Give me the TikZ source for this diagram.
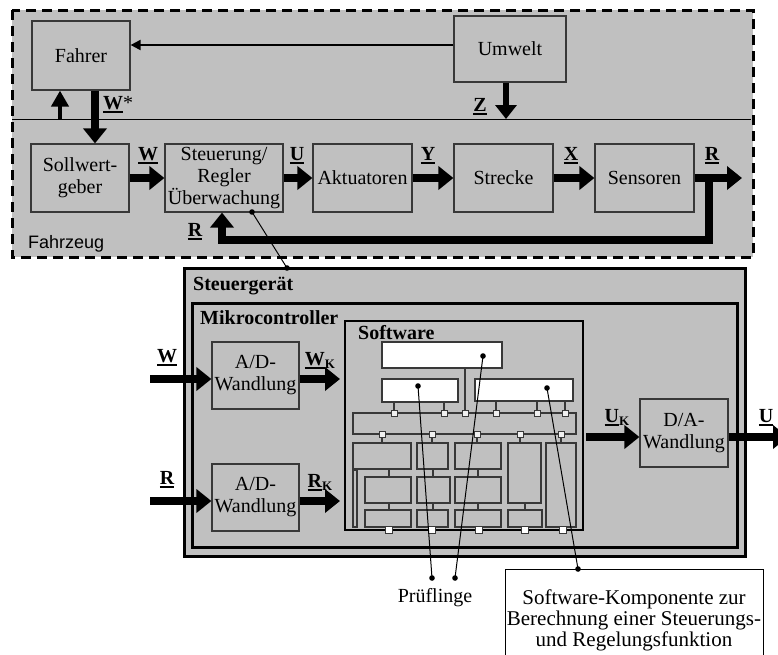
\documentclass[tikz,border=0pt]{standalone}
\usepackage{fontspec}
\setmainfont{Liberation Serif}
\newfontfamily\labelsans{Liberation Sans}
\usetikzlibrary{arrows.meta}

\definecolor{panel}{HTML}{C0C0C0}
\definecolor{edge}{HTML}{383838}

% small square port on a software bus line
\newcommand\swport[2]{\draw[port] (#1-3,#2-3) rectangle (#1+3,#2+3);}
% underlined signal name
\newcommand\ulsig[1]{\leavevmode\vtop{\hbox{#1}\kern1.8pt\hrule height 1.7pt}}

\begin{document}
\begin{tikzpicture}[x=1pt,y=-1pt,line join=miter,
  every node/.style={font=\fontsize{20}{22}\selectfont},
  blk/.style={draw=edge,line width=1.2pt,fill=panel,inner sep=0pt,align=center},
  wbox/.style={draw=edge,line width=1.4pt,fill=white,inner sep=0pt},
  sig/.style={inner sep=0pt,anchor=base,font=\fontsize{20}{22}\selectfont\bfseries},
  flow/.style={line width=8pt,-{Triangle[length=15pt,width=23pt]}},
  thinflow/.style={line width=2pt,-{Triangle[length=10pt,width=10pt]}},
  pointer/.style={line width=1pt},
  mod/.style={draw=edge,line width=1.3pt,fill=panel},
  port/.style={draw=edge,line width=1pt,fill=gray!12},
  stub/.style={draw=edge,line width=1.3pt},
]
\useasboundingbox (0,0) rectangle (778,654);
\clip (0,0) rectangle (778,654);

% ---------------- vehicle level ----------------
\draw[line width=3pt,dash pattern=on 10pt off 6pt,fill=panel] (12,10) rectangle (753,257);
\coordinate (sepL) at (12,119);
\coordinate (sepR) at (751,119);
\draw[line width=1pt] (sepL) -- (sepR);
\node[inner sep=0pt,anchor=base west,font=\labelsans\fontsize{18}{20}\selectfont] (fzlabel) at (28,248) {Fahrzeug};

\node[blk,minimum width=98pt,minimum height=69pt] (fahrer) at (81,55.5) {Fahrer};
\node[blk,minimum width=112pt,minimum height=66pt] (umwelt) at (510,49) {Umwelt};

\node[blk,minimum width=98pt,minimum height=68pt] (soll) at (80,178) {Sollwert-\\geber};
\node[blk,minimum width=118pt,minimum height=68pt] (steuer) at (224,178) {Steuerung/\\Regler\\Überwachung};
\node[blk,minimum width=99pt,minimum height=68pt] (akt) at (362.5,178) {Aktuatoren};
\node[blk,minimum width=99pt,minimum height=68pt] (strecke) at (503.5,178) {Strecke};
\node[blk,minimum width=99pt,minimum height=68pt] (sens) at (644.5,178) {Sensoren};

% environment to driver
\draw[thinflow] (umwelt.west |- 0,45) -- (fahrer.east |- 0,45);
% disturbance
\coordinate (zfoot) at (506,119);
\draw[line width=6pt,-{Triangle[length=14pt,width=21pt]}] (umwelt.south -| zfoot) -- (zfoot);
\node[sig] (lz) at (480,111) {\ulsig{Z}};
% feedback to driver
\coordinate (upfoot) at (60,119);
\draw[line width=4pt,-{Triangle[length=16pt,width=17pt]}] (upfoot) -- (upfoot |- fahrer.south);
% driver set point
\coordinate (wsx) at (95,0);
\draw[flow] (fahrer.south -| wsx) -- (soll.north -| wsx);
\node[sig] (lws) at (118,109) {\ulsig{W}\textnormal{*}};

% forward chain
\draw[flow] (soll) -- (steuer);
\draw[flow] (steuer) -- (akt);
\draw[flow] (akt) -- (strecke);
\draw[flow] (strecke) -- (sens);
\coordinate (rtip) at (742,178);
\draw[flow] (sens.east) -- (rtip);
\node[sig] (lw) at (148,160) {\ulsig{W}};
\node[sig] (lu) at (297,160) {\ulsig{U}};
\node[sig] (ly) at (428,160) {\ulsig{Y}};
\node[sig] (lx) at (571,160) {\ulsig{X}};
\node[sig] (lr) at (712,160) {\ulsig{R}};

% feedback loop
\coordinate (rsplit) at (709,178);
\coordinate (rcorner) at (709,240);
\coordinate (rleft) at (222,240);
\draw[flow] (rsplit) -- (rcorner) -- (rleft) -- (steuer.south -| rleft);
\node[sig] (lrfb) at (195,236) {\ulsig{R}};

% ---------------- control unit ----------------
\node[draw,line width=3pt,fill=panel,minimum width=561pt,minimum height=288pt,inner sep=0pt] (sg) at (464.5,412) {};
\node[draw,line width=3pt,fill=panel,minimum width=545pt,minimum height=244pt,inner sep=0pt] (mc) at (464.5,425) {};
\node[inner sep=0pt,anchor=base west,font=\fontsize{20}{22}\selectfont\bfseries] (sglabel) at (193,290) {Steuergerät};
\node[inner sep=0pt,anchor=base west,font=\fontsize{20}{22}\selectfont\bfseries] (mclabel) at (200,324) {Mikrocontroller};

\node[draw,line width=1.2pt,fill=panel,minimum width=238pt,minimum height=209pt,inner sep=0pt] (sw) at (464,425.5) {};
\node[inner sep=0pt,anchor=base west,font=\fontsize{20}{22}\selectfont\bfseries] (swlabel) at (358,339) {Software};

\node[blk,minimum width=87pt,minimum height=67pt] (ad1) at (255.5,375.5) {A/D-\\Wandlung};
\node[blk,minimum width=87pt,minimum height=67pt] (ad2) at (255.5,497.5) {A/D-\\Wandlung};
\node[blk,minimum width=88pt,minimum height=68pt] (da) at (684,433) {D/A-\\Wandlung};

\coordinate (winfoot) at (150,379);
\coordinate (wktip) at (340,379);
\coordinate (rinfoot) at (150,501);
\coordinate (rktip) at (340,501);
\coordinate (ukfoot) at (586,437);
\coordinate (uout) at (788,437);
\draw[flow] (winfoot) -- (ad1.west |- winfoot);
\draw[flow] (ad1.east |- wktip) -- (wktip);
\draw[flow] (rinfoot) -- (ad2.west |- rinfoot);
\draw[flow] (ad2.east |- rktip) -- (rktip);
\draw[flow] (ukfoot) -- (da.west |- ukfoot);
\draw[flow] (da.east |- uout) -- (uout);
\node[sig] (lwin) at (167,362) {\ulsig{W}};
\node[sig] (lwk) at (320,365) {\ulsig{W}\raisebox{-3pt}{\fontsize{13}{13}\selectfont K}};
\node[sig] (lrin) at (167,484) {\ulsig{R}};
\node[sig] (lrk) at (320,487) {\ulsig{R}\raisebox{-3pt}{\fontsize{13}{13}\selectfont K}};
\node[sig] (luk) at (617,422) {\ulsig{U}\raisebox{-3pt}{\fontsize{13}{13}\selectfont K}};
\node[sig] (luout) at (766,422) {\ulsig{U}};

% ---------------- software structure ----------------
\node[wbox,minimum width=120pt,minimum height=26pt] (swtop) at (442,355) {};
\node[wbox,minimum width=76pt,minimum height=23pt] (swleft) at (420,390.5) {};
\node[wbox,minimum width=98pt,minimum height=22pt] (swright) at (524,390) {};

% bus
\draw[mod] (353,413) rectangle (576,434);
\draw[stub] (394,402) -- (394,413);
\draw[stub] (444,402) -- (444,413);
\draw[stub] (465,368) -- (465,413);
\draw[stub] (496,401) -- (496,413);
\draw[stub] (537,401) -- (537,413);
\draw[stub] (565,401) -- (565,413);
\foreach \px in {382,432,477,520,561} {\draw[stub] (\px,434) -- (\px,443);}

% module columns
\draw[mod] (353,443) rectangle (411,469);
\draw[mod] (353,470) rectangle (357,527);
\draw[mod] (365,477) rectangle (411,503);
\draw[mod] (365,510) rectangle (411,527);
\draw[stub] (389,469) -- (389,477) (389,503) -- (389,510);

\draw[mod] (417,443) rectangle (448,469);
\draw[mod] (417,477) rectangle (450,503);
\draw[mod] (417,510) rectangle (448,527);
\draw[stub] (433,469) -- (433,477) (433,503) -- (433,510);

\draw[mod] (455,443) rectangle (501,469);
\draw[mod] (455,477) rectangle (501,503);
\draw[mod] (455,510) rectangle (501,527);
\draw[stub] (478,469) -- (478,477) (478,503) -- (478,510);

\draw[mod] (508,443) rectangle (541,503);
\draw[mod] (508,510) rectangle (542,527);
\draw[stub] (525,503) -- (525,510);

\draw[mod] (546,443) rectangle (576,527);

% ports
\foreach \px in {394,444,465,496,537,565} {\swport{\px}{413}}
\foreach \px in {382,432,477,520,561} {\swport{\px}{434}}
\foreach \px in {389,432,479,525,563} {\draw[draw=edge,line width=1pt,fill=white] (\px-3.5,530-3.5) rectangle (\px+3.5,530+3.5);}

% ---------------- annotations ----------------
\coordinate (stdot) at (252,212);
\coordinate (sgdot) at (287,268);
\draw[pointer] (stdot) -- (sgdot);
\fill (stdot) circle[radius=2.8];
\fill (sgdot) circle[radius=2.8];

\coordinate (dl) at (418,386);
\coordinate (dt) at (483,356);
\coordinate (dr) at (547,388);
\coordinate (pa) at (432,578);
\coordinate (pb) at (455,578);
\coordinate (kd) at (578,569);

\node[anchor=north,draw,line width=1pt,fill=white,minimum width=258pt,inner xsep=0pt,inner ysep=20pt,align=center,font=\fontsize{21}{21}\selectfont] (komp) at (634,569)
  {Software-Komponente zur\\Berechnung einer Steuerungs-\\und Regelungsfunktion};
\node[inner sep=0pt,anchor=base] (pruef) at (435,602) {Prüflinge};

\draw[pointer] (dl) -- (pa);
\draw[pointer] (dt) -- (pb);
\draw[pointer] (dr) -- (kd);
\foreach \p in {dl,dt,dr,pa,pb,kd} {\fill (\p) circle[radius=2.8];}
\end{tikzpicture}
\end{document}
